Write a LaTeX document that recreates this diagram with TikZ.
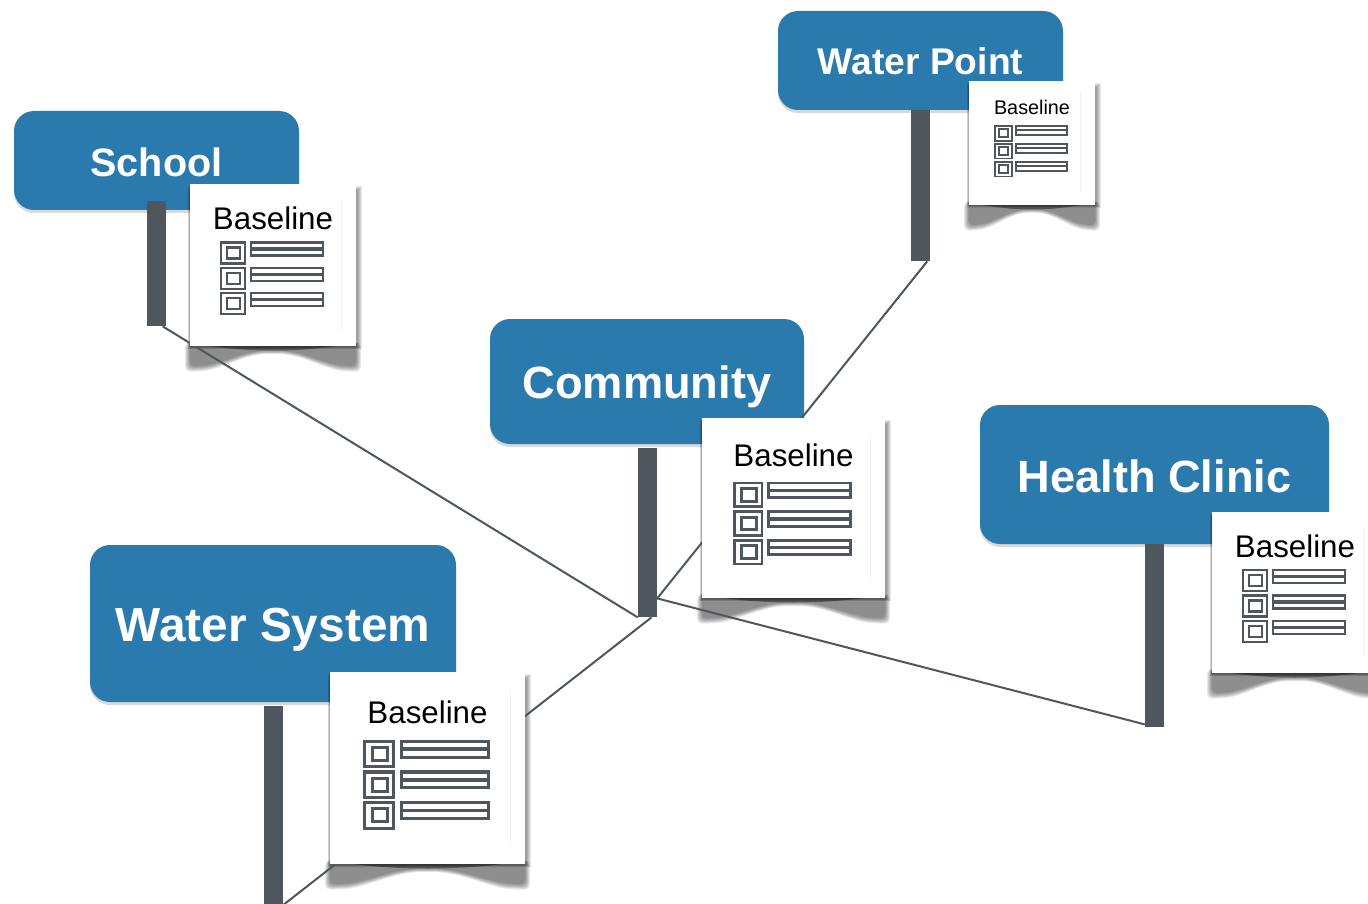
\documentclass[tikz,border=0pt]{standalone}
\usepackage{fontspec}
\setmainfont{Liberation Sans}
\usetikzlibrary{shadows}
\definecolor{signblue}{HTML}{2A7AAD}
\definecolor{postgrey}{HTML}{50565E}
\tikzset{
  signbox/.style={rectangle,rounded corners=20pt,fill=signblue,text=white,inner sep=0pt,
    text depth=0pt,font=\bfseries,drop shadow={shadow xshift=0pt,shadow yshift=-3pt,opacity=.3}},
  postbar/.style={rectangle,fill=postgrey,inner sep=0pt,minimum width=19pt,anchor=north},
  link/.style={draw=postgrey,line width=2pt},
  cardsheet/.style={rectangle,fill=white,inner sep=0pt,anchor=north west},
  pics/cardshadow/.style n args={2}{code={
    \foreach \i in {0,...,7}{
      \fill[black,opacity=.07,rounded corners=5pt] ({-5+\i*.7},{#2-4}) -- ({-5+\i*.7},{#2+26-\i*.8})
        -- ({#1*.1},{#2+25-\i*.8})
        .. controls ({#1*.25},{#2+18-\i*.7}) and ({#1*.35},{#2+8-\i*.5}) .. ({#1*.5},{#2+8-\i*.5})
        .. controls ({#1*.65},{#2+8-\i*.5}) and ({#1*.75},{#2+18-\i*.7}) .. ({#1*.9},{#2+25-\i*.8})
        -- ({#1+5-\i*.7},{#2+26-\i*.8}) -- ({#1+5-\i*.7},{#2-4}) -- cycle;
    }
    \fill[black,opacity=.4] ({#1*.12},{#2}) .. controls ({#1*.35},{#2+6}) and ({#1*.65},{#2+6}) .. ({#1*.88},{#2}) -- cycle;
    \foreach \i in {0,...,4}{
      \fill[black,opacity=.09] ({-2+\i*.4},{2+\i}) rectangle ({#1+6-\i},{#2+3-\i*.5});
    }
  }},
  pics/baselinecard/.style n args={4}{code={
    \node[cardsheet,minimum width=#1pt,minimum height=#2pt] (-sheet) at (0,0) {};
    \draw[gray!10,line width=.8pt] ({#1-15},{#2*.09}) -- ({#1-15},{#2*.9});
    \node[font=\fontsize{#3}{#3}\selectfont,inner sep=0pt] (-label) at ({#1*.5},{#2*.21}) {Baseline};
    \begin{scope}[shift={({(#1-104*#4)/2-1},{#2*.355})},scale=#4,draw=postgrey,line width=2.5pt*#4]
      \foreach \r in {0,25.3,50.6}{
        \draw (1,{\r+1}) rectangle (25,{\r+22});
        \draw (7,{\r+6}) rectangle (20,{\r+17});
        \draw (31,{\r+1}) rectangle (103,{\r+14});
        \draw[line width=3.2pt*#4] (31,{\r+7.5}) -- (103,{\r+7.5});
      }
    \end{scope}
  }}
}
\begin{document}
\begin{tikzpicture}[x=1pt,y=-1pt]
\clip (0,0) rectangle (1368,904);

\node[signbox,minimum width=285pt,minimum height=99pt,text height=32pt] (school) at (156.5,160.5)
  {\fontsize{39.6}{40}\selectfont School};
\node[signbox,minimum width=285pt,minimum height=99pt,text height=28pt] (waterpoint) at (920.5,60.5)
  {\fontsize{37.2}{40}\selectfont Water Point};
\node[signbox,minimum width=314pt,minimum height=125pt,text height=33pt] (community) at (647,381.5)
  {\fontsize{45.2}{46}\selectfont Community};
\node[signbox,minimum width=349pt,minimum height=139pt,text height=36pt] (healthclinic) at (1154.5,474.5)
  {\fontsize{45.2}{46}\selectfont Health Clinic};
\node[signbox,minimum width=366pt,minimum height=157pt,text height=35pt] (watersystem) at (273,623.5)
  {\fontsize{47.8}{48}\selectfont Water System};

\node[postbar,minimum height=125pt] (schoolpost) at (156,201) {};
\node[postbar,minimum height=151pt] (waterpointpost) at (920.5,110) {};
\node[postbar,minimum height=169pt] (communitypost) at (647.5,448) {};
\node[postbar,minimum height=183pt] (healthclinicpost) at (1154.5,544) {};
\node[postbar,minimum height=199pt] (watersystempost) at (273,706) {};

\pic at (190,184) {cardshadow={166}{162}};
\pic at (969,81) {cardshadow={126}{124}};
\pic at (702,418) {cardshadow={183}{180}};
\pic at (1212,512) {cardshadow={166}{161}};
\pic at (330,672) {cardshadow={195}{192}};

\coordinate (communityside) at ([yshift=19pt]communitypost.south east);
\draw[link] ([xshift=-3pt]schoolpost.south east) -- (communitypost.south west);
\draw[link] ([xshift=-3pt]waterpointpost.south east) -- (communityside);
\draw[link] ([yshift=3pt]healthclinicpost.south west) -- (communityside);
\draw[link] (watersystempost.south east) -- ([xshift=4pt]communitypost.south);

\pic (schoolcard) at (190,184) {baselinecard={166}{162}{31.3}{1}};
\pic (waterpointcard) at (969,81) {baselinecard={126}{124}{19.8}{.71}};
\pic (communitycard) at (702,418) {baselinecard={183}{180}{31.3}{1.13}};
\pic (healthcliniccard) at (1212,512) {baselinecard={166}{161}{31.3}{1}};
\pic (watersystemcard) at (330,672) {baselinecard={195}{192}{31.3}{1.21}};
\end{tikzpicture}
\end{document}
